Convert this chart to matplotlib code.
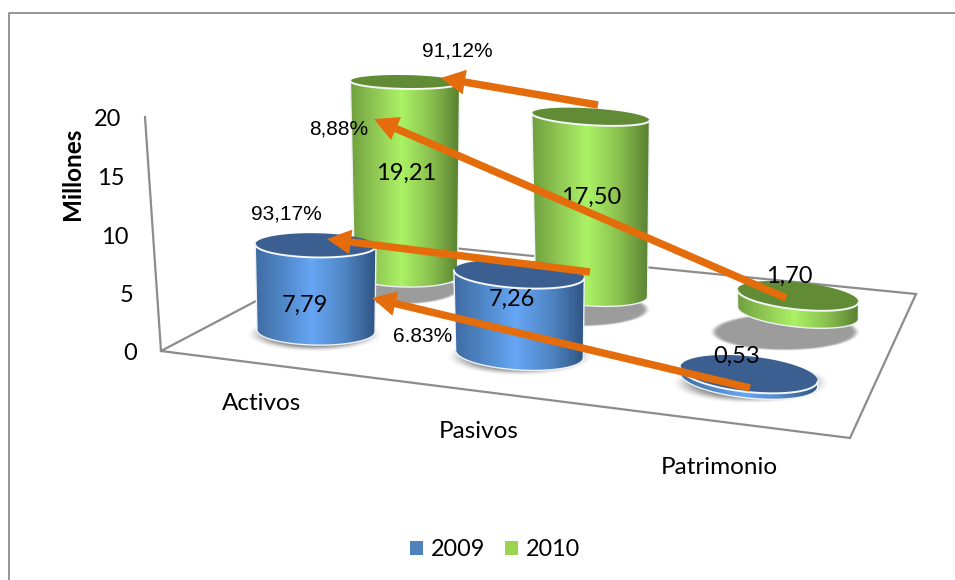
import numpy as np
import matplotlib
matplotlib.use("Agg")
import matplotlib.pyplot as plt
from matplotlib.patches import Polygon, Patch, FancyArrow

categories = ["Activos", "Pasivos", "Patrimonio"]
series_names = ["2009", "2010"]
values_2009 = [7.79, 7.26, 0.53]
values_2010 = [19.21, 17.50, 1.70]
labels_2009 = ["7,79", "7,26", "0,53"]
labels_2010 = ["19,21", "17,50", "1,70"]
y_ticks = [0, 5, 10, 15, 20]
pct_labels = ["91,12%", "8,88%", "93,17%", "6.83%"]

W, H = 955, 580
plt.rcParams["font.family"] = ["Lato", "DejaVu Sans"]
fig = plt.figure(figsize=(W / 100, H / 100), dpi=100)
ax = fig.add_axes([0, 0, 1, 1])
ax.set_xlim(0, W)
ax.set_ylim(H, 0)
ax.axis("off")
ax.autoscale(False)


def homography(src, dst):
    A, b = [], []
    for (u, v), (x, y) in zip(src, dst):
        A.append([u, v, 1, 0, 0, 0, -u * x, -v * x])
        b.append(x)
        A.append([0, 0, 0, u, v, 1, -u * y, -v * y])
        b.append(y)
    return np.append(np.linalg.solve(np.array(A, float), np.array(b, float)), 1).reshape(3, 3)


HOM = homography([(0, 0), (2, 0), (2, 1), (0, 1)],
                 [(316, 331), (749, 380), (798, 313), (406, 276)])


def base_xy(c, s):
    p = HOM @ np.array([c, s, 1.0])
    return p[0] / p[2], p[1] / p[2]


PX_PER_UNIT = [11.0, 10.1]
BASE_RX = [[59.0, 69.0], [51.5, 60.7]]
BLUE = ["#3f6ba3", "#4f86c6", "#66a6f5", "#4f84c2", "#2f5383"]
GREEN = ["#6f9f3e", "#8fc653", "#abf265", "#88bd4e", "#587f30"]
TOPS = ["#3a5f90", "#628b36"]
GRAD_POS = [0, 0.22, 0.47, 0.75, 1]
ORANGE = "#E46C0A"
GRID = "#8c8c8c"
TEXT_DY = 2


def ell(cx, cy, rx, ry, tilt, t0=0, t1=360, n=90):
    t = np.radians(np.linspace(t0, t1, n))
    a = np.radians(tilt)
    ex, ey = rx * np.cos(t), ry * np.sin(t)
    return np.c_[cx + ex * np.cos(a) - ey * np.sin(a), cy + ex * np.sin(a) + ey * np.cos(a)]


def ratio(y):
    return 0.09 + 0.00045 * y


def shadow(cx, cy, rx, ry, soft, color, alpha, z):
    xs = np.linspace(cx - rx, cx + rx, 220)
    ys = np.linspace(cy - ry, cy + ry, 120)
    X, Y = np.meshgrid(xs, ys)
    r = np.sqrt(((X - cx) / rx) ** 2 + ((Y - cy) / ry) ** 2)
    a = np.clip((1 - r) / soft, 0, 1)
    a = a * a * (3 - 2 * a) * alpha
    img = np.zeros(a.shape + (4,))
    img[..., :3] = matplotlib.colors.to_rgb(color)
    img[..., 3] = a
    ax.imshow(img, extent=(cx - rx, cx + rx, cy + ry, cy - ry), aspect="auto", zorder=z, interpolation="bilinear")


def cylinder(c, s, value, z):
    bx, by = base_xy(c, s)
    h = value * PX_PER_UNIT[s]
    rx0 = BASE_RX[s][0] + (BASE_RX[s][1] - BASE_RX[s][0]) * c / 2
    rx1 = rx0 + 0.016 * h
    tx, ty = bx - 0.005 * h, by - h
    tilt = 1.0 + 2.5 * c
    ry0, ry1 = rx0 * ratio(by), rx1 * ratio(ty)
    bottom = ell(bx, by, rx0, ry0, tilt, 0, 180)
    front = ell(tx, ty, rx1, ry1, tilt, 0, 180)
    poly = np.vstack([bottom, ell(tx, ty, rx1, ry1, tilt, 180, 180, 1),
                      ell(tx, ty, rx1, ry1, tilt, 0, 0, 1)])
    xl, xr = poly[:, 0].min(), poly[:, 0].max()
    yt, yb = poly[:, 1].min(), poly[:, 1].max()
    stops = BLUE if s == 0 else GREEN
    rgb = np.array([matplotlib.colors.to_rgb(k) for k in stops])
    tt = np.linspace(0, 1, 256)
    grad = np.stack([np.interp(tt, GRAD_POS, rgb[:, i]) for i in range(3)], axis=-1)[None, :, :]
    im = ax.imshow(grad, extent=(xl, xr, yb, yt), aspect="auto", zorder=z, interpolation="bilinear")
    patch = Polygon(poly, closed=True, transform=ax.transData, facecolor="none", edgecolor="none")
    ax.add_patch(patch)
    im.set_clip_path(patch)
    ax.add_patch(Polygon(poly, closed=True, facecolor="none", edgecolor="#eef2f6", lw=1.0, zorder=z + 0.1))
    ax.add_patch(Polygon(ell(tx, ty, rx1, ry1, tilt), closed=True, facecolor=TOPS[s], edgecolor="none", zorder=z + 0.2))
    ax.plot(*front.T, color="#f4f6f8", lw=1.4, zorder=z + 0.3, solid_capstyle="round")


# chart frame: only the left and top edges fall inside the picture
ax.plot([8.5, 8.5, W], [H, 13, 13], color="#8c8c8c", lw=1.3, zorder=0)

# floor and wall
F0, F1, B1, BL = (161, 351), (850, 438), (916, 294), (372, 240)
ax.plot([145, F0[0], F1[0], B1[0], BL[0], F0[0]], [117, F0[1], F1[1], B1[1], BL[1], F0[1]],
        color=GRID, lw=1.6, zorder=1, solid_joinstyle="miter")

# tick labels on the wall axis
for v in y_ticks:
    wx = F0[0] + (145 - F0[0]) * v / 20
    wy = F0[1] + (117 - F0[1]) * v / 20
    ax.text(wx - 24, wy + 1 + TEXT_DY, str(v), ha="right", va="center", fontsize=17, color="black", zorder=60)
ax.text(72, 174, "Millones", rotation=90, ha="center", va="center", fontsize=17.5, fontweight="bold", zorder=60)

# shadows
for c in range(3):
    bx, by = base_xy(c, 1)
    rx = BASE_RX[1][0] + (BASE_RX[1][1] - BASE_RX[1][0]) * c / 2
    shadow(bx - 9 - 2 * c, by + 13 + 3 * c, rx * 1.25, rx * 0.31, 0.12, "#9c9c9c", 1.0, 2)
for c in range(3):
    bx, by = base_xy(c, 0)
    rx = BASE_RX[0][0] + (BASE_RX[0][1] - BASE_RX[0][0]) * c / 2
    shadow(bx - 2 + 2 * c, by + 3, rx * 1.17, rx * 0.3, 0.45, "#666666", 0.9, 3)

# cylinders, back row first
for c, v in enumerate(values_2010):
    cylinder(c, 1, v, 10 + c)
for c, v in enumerate(values_2009):
    cylinder(c, 0, v, 20 + c)

# value labels
for c, lab, dx, dy in zip(range(3), labels_2010, (0, 0, -9), (-8, -10, -21)):
    bx, by = base_xy(c, 1)
    top = by - values_2010[c] * PX_PER_UNIT[1]
    y = (by + top) / 2 + dy if c < 2 else top + dy
    ax.text(bx + dx, y + TEXT_DY, lab, ha="center", va="center", fontsize=17, zorder=40)
for c, lab, dx, dy in zip(range(3), labels_2009, (-11, -8, -12), (15, -17, -20)):
    bx, by = base_xy(c, 0)
    top = by - values_2009[c] * PX_PER_UNIT[0]
    y = (by + top) / 2 + dy if c < 2 else top + dy
    ax.text(bx + dx, y + TEXT_DY, lab, ha="center", va="center", fontsize=17, zorder=40)

# category labels
for name, x, y in zip(categories, (262, 479, 719), (402, 430, 465)):
    ax.text(x, y + TEXT_DY, name, ha="center", va="center", fontsize=17.5, zorder=60)

# annotation arrows
arrows = [((598, 105), (441, 78)), ((786, 298), (374, 119)), ((590, 272), (327, 239)), ((750, 388), (372, 298))]
for (x0, y0), (x1, y1) in arrows:
    ax.add_patch(FancyArrow(x0, y0, x1 - x0, y1 - y0, width=7.5, head_width=25, head_length=24,
                            length_includes_head=True, facecolor=ORANGE, edgecolor="none", zorder=50))
for lab, x, y in zip(pct_labels, (457, 339, 286, 423), (50, 128, 213, 335)):
    ax.text(x, y + 1, lab, ha="center", va="center", fontsize=15, family="Liberation Sans", zorder=60)

# legend
handles = [Patch(facecolor="#4F81BD", label=series_names[0]), Patch(facecolor="#9BD44F", label=series_names[1])]
ax.legend(handles=handles, ncol=2, loc="center", bbox_to_anchor=(495 / W, 1 - 550 / H), frameon=False,
          fontsize=16.8, handlelength=0.55, handleheight=0.55, handletextpad=0.34, columnspacing=0.85, borderpad=0)

fig.savefig("out.png", dpi=100)
